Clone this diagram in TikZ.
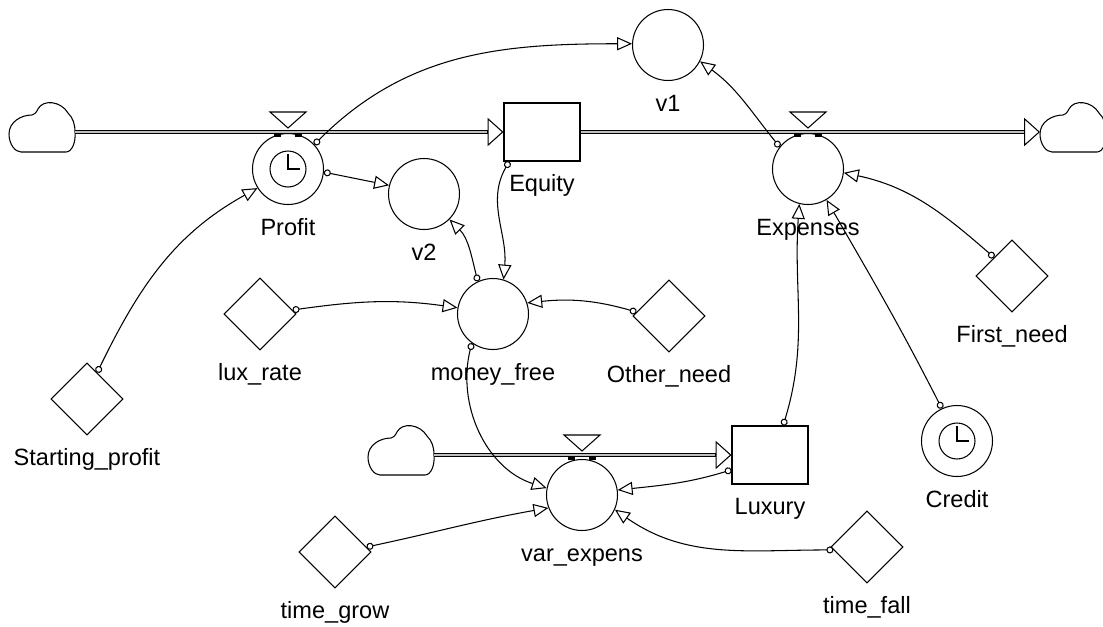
\documentclass[tikz,border=0pt]{standalone}
\usepackage{fontspec}
\setmainfont{Liberation Sans}
\usetikzlibrary{shapes.geometric,arrows.meta,positioning}

\tikzset{
  aux/.style={circle, draw, line width=0.6pt, minimum size=1.42cm, inner sep=0pt},
  clockaux/.style={aux, path picture={
      \draw[line width=0.6pt] (path picture bounding box.center) circle[radius=0.36cm];
      \draw[line width=0.6pt] (path picture bounding box.center) ++(0,-15) -- ++(0,15) -- ++(12,0);}},
  const/.style={diamond, draw, line width=0.6pt, minimum width=1.44cm, minimum height=1.44cm, inner sep=0pt},
  stock/.style={rectangle, draw, line width=0.6pt, minimum width=1.52cm, minimum height=1.16cm, inner sep=0pt},
  lbl/.style={anchor=base, inner sep=0pt, font=\fontsize{13.4}{16}\selectfont},
  pipe/.style={line width=0.55pt, double=black!25, double distance=1.6pt, shorten >=9pt},
  pipehead/.style={line width=0.6pt, {Triangle[length=9pt, width=16pt, fill=white]}-},
  link/.style={line width=0.6pt, {Circle[open, length=4pt]}-{Triangle[open, length=8.5pt, width=7.5pt]}},
  cloudpic/.pic={
    \draw[line width=0.6pt] (-20,24) -- (25,24) .. controls (31,24) and (35,14) .. (34,4)
      .. controls (34,-4) and (32,-10) .. (27,-15)
      .. controls (20,-27) and (2,-29) .. (-3,-19)
      .. controls (-5,-15) and (-7,-13) .. (-9,-13)
      .. controls (-20,-13) and (-32,-6) .. (-32,6)
      .. controls (-32,16) and (-26,24) .. (-20,24) -- cycle;
    \coordinate (-e) at (34,4);
    \coordinate (-w) at (-32,4);
  },
  valvepic/.pic={
    \draw[line width=0.6pt, fill=white] (-18,-20) -- (18,-20) -- (0,-4) -- cycle;
    \fill (-14,2) rectangle (-7,5);
    \fill (7,2) rectangle (14,5);
  },
}

\begin{document}
\begin{tikzpicture}[x=0.02cm, y=-0.02cm]
\useasboundingbox (0,0) rectangle (1103,626);

\node[stock] (equity) at (542,132) {};
\node[stock] (luxury) at (770,455) {};
\node[clockaux] (profit) at (288,169) {};
\node[clockaux] (credit) at (957,441) {};
\node[aux] (v1) at (668,45) {};
\node[aux] (v2) at (424,194) {};
\node[aux] (expenses) at (808,169) {};
\node[aux] (moneyfree) at (493,314) {};
\node[aux] (varexpens) at (582,495) {};
\node[const] (luxrate) at (260,314) {};
\node[const] (otherneed) at (669,316) {};
\node[const] (firstneed) at (1012,276) {};
\node[const] (startprofit) at (87,399) {};
\node[const] (timegrow) at (335,552) {};
\node[const] (timefall) at (867,547) {};

\node[below=0.6cm of equity, lbl] (equityL) {Equity};
\node[below=0.6cm of luxury, lbl] (luxuryL) {Luxury};
\node[below=0.6cm of profit, lbl] (profitL) {Profit};
\node[below=0.6cm of credit, lbl] (creditL) {Credit};
\node[below=0.6cm of v1, lbl] (v1L) {v1};
\node[below=0.6cm of v2, lbl] (v2L) {v2};
\node[below=0.6cm of expenses, lbl] (expensesL) {Expenses};
\node[below=0.6cm of moneyfree, lbl] (moneyfreeL) {money\_free};
\node[below=0.6cm of varexpens, lbl] (varexpensL) {var\_expens};
\node[below=0.6cm of luxrate, lbl] (luxrateL) {lux\_rate};
\node[below=0.6cm of otherneed, lbl] (otherneedL) {Other\_need};
\node[below=0.6cm of firstneed, lbl] (firstneedL) {First\_need};
\node[below=0.6cm of startprofit, lbl] (startprofitL) {Starting\_profit};
\node[below=0.6cm of timegrow, lbl] (timegrowL) {time\_grow};
\node[below=0.6cm of timefall, lbl] (timefallL) {time\_fall};

% flows
\pic (cloudL) at (41,128) {cloudpic};
\pic (cloudR) at (1072,128) {cloudpic};
\pic (cloudB) at (400,451) {cloudpic};
\draw[pipe] (cloudL-e) -- (equity.west);
\draw[pipehead] (equity.west) -- ++(-16,0);
\draw[pipe] (equity.east) -- (cloudR-w);
\draw[pipehead] (cloudR-w) -- ++(-16,0);
\draw[pipe] (cloudB-e) -- (luxury.west);
\draw[pipehead] (luxury.west) -- ++(-16,0);
\pic at (profit |- equity) {valvepic};
\pic at (expenses |- equity) {valvepic};
\pic at (varexpens |- luxury) {valvepic};

% links
\draw[link] (profit.43) to[out=45, in=180] (v1.178);
\draw[link] (profit.-5) -- (v2.166);
\draw[link] (startprofit.69) to[out=64, in=-151] (profit.212);
\draw[link] (equity.-138) to[out=-120, in=85] (moneyfree.73);
\draw[link] (moneyfree.115) to[out=104, in=-45] (v2.-45);
\draw[link] (luxrate.7) to[out=8, in=172] (moneyfree.170);
\draw[link] (otherneed.173) to[out=164, in=6] (moneyfree.18);
\draw[link] (moneyfree.234) to[out=-104, in=162] (varexpens.169);
\draw[link] (expenses.142) to[out=129, in=-36] (v1.-27);
\draw[link] (firstneed.134) to[out=139, in=-12] (expenses.-6);
\draw[link] (luxury.66) to[out=73, in=-94] (expenses.-104);
\draw[link] (credit.115) to[out=117, in=-60] (expenses.-59);
\draw[link] (luxury.201) to[out=197, in=6] (varexpens.8);
\draw[link] (timegrow.9) to[out=12, in=190] (varexpens.201);
\draw[link] (timefall.185) to[out=180, in=-35] (varexpens.-24);
\end{tikzpicture}
\end{document}
